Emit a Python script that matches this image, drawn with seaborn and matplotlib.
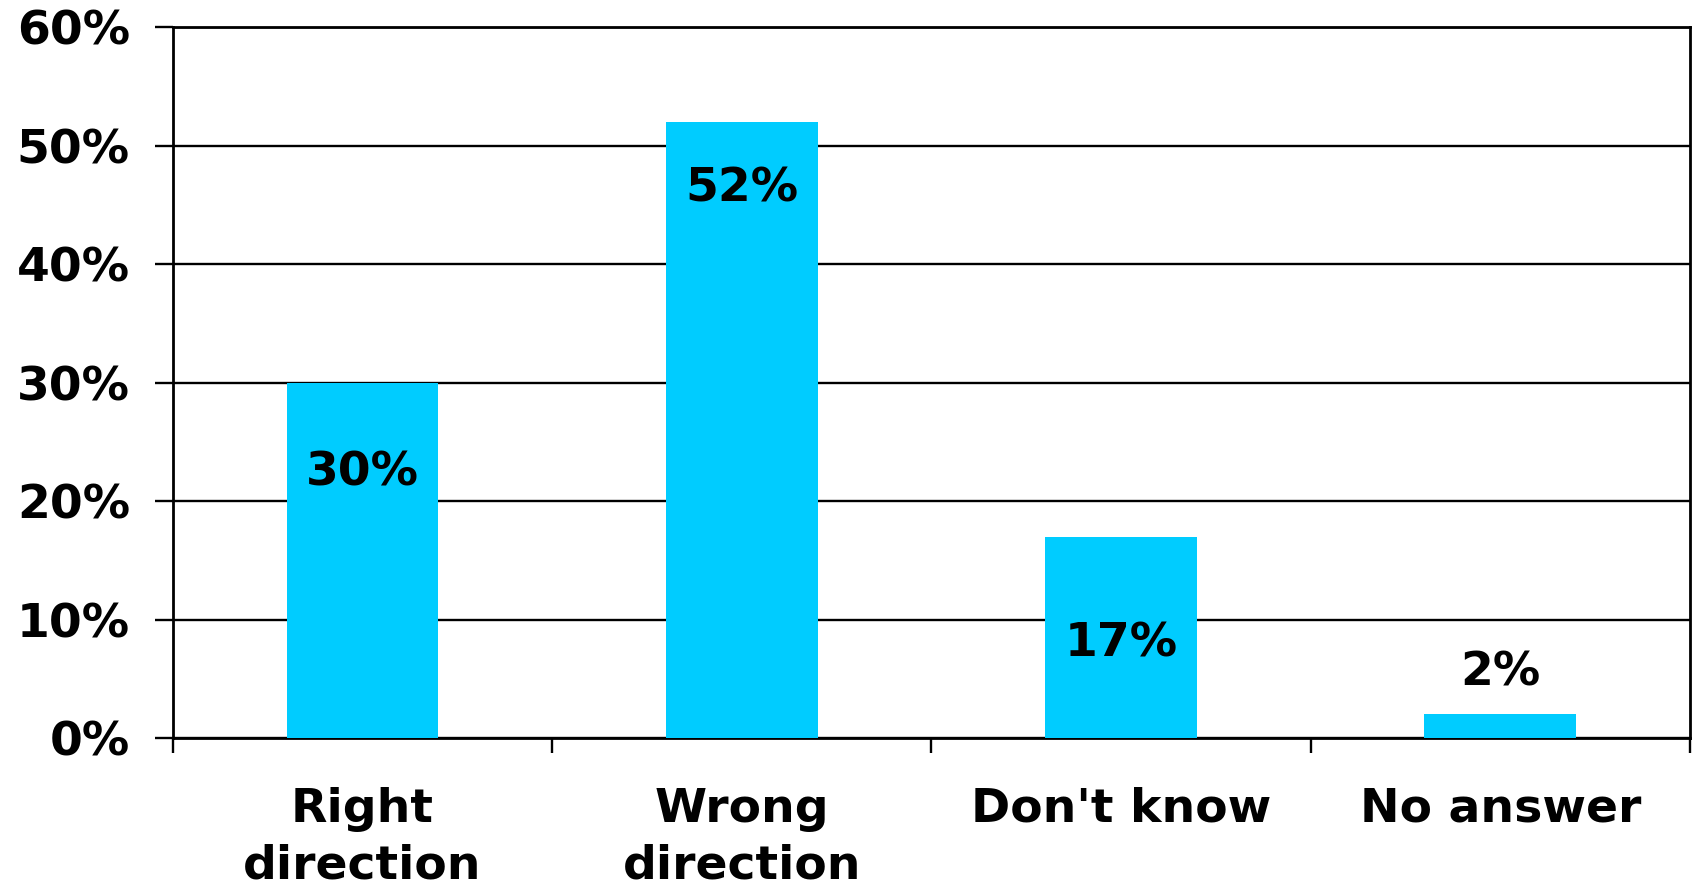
import pandas as pd
import matplotlib
matplotlib.use("Agg")
import matplotlib.pyplot as plt
import seaborn as sns

# Chart data
categories = ["Right\ndirection", "Wrong\ndirection", "Don't know", "No answer"]
values = [30, 52, 17, 2]
label_y = [22.4, 46.3, 7.9, 5.5]   # where each value label sits (in %)
y_ticks = [0, 10, 20, 30, 40, 50, 60]

bar_color = "#00CCFF"

sns.set_theme(style="white")
plt.rcParams['font.family'] = ['DejaVu Sans']
plt.rcParams['font.weight'] = 'bold'

df = pd.DataFrame({"category": categories, "value": values})

fig, ax = plt.subplots(figsize=(16.94, 8.86), dpi=100)
fig.subplots_adjust(left=0.1021, right=0.9976, top=0.9695, bottom=0.167)

sns.barplot(data=df, x="category", y="value", color=bar_color,
            saturation=1, width=0.4, linewidth=0, edgecolor="none",
            ax=ax, zorder=3)

ax.set_xlim(-0.5, len(categories) - 0.5)
ax.set_ylim(0, 60)
ax.set_yticks(y_ticks)
ax.yaxis.set_major_formatter(plt.FuncFormatter(lambda v, p: f"{v:.0f}%"))
ax.grid(axis="y", color="black", linewidth=1.7, zorder=1)
ax.grid(axis="x", visible=False)
ax.set_axisbelow(True)

for s in ax.spines.values():
    s.set_visible(True)
    s.set_color("black")
    s.set_linewidth(2.0)

ax.tick_params(axis="y", which="major", length=13, width=1.7, color="black",
               direction="out", pad=18, labelsize=34, labelcolor="black", left=True)
ax.tick_params(axis="x", which="major", length=0, pad=35, labelsize=34,
               labelcolor="black")
ax.set_xticks(range(len(categories)))
ax.set_xticklabels(categories, fontweight="bold", linespacing=1.34)
for t in ax.get_yticklabels():
    t.set_fontweight("bold")

# category boundary ticks
ax.set_xticks([i - 0.5 for i in range(len(categories) + 1)], minor=True)
ax.tick_params(axis="x", which="minor", length=11, width=1.7, color="black",
               direction="out", bottom=True)

ax.set_xlabel("")
ax.set_ylabel("")

for i, (v, ly) in enumerate(zip(values, label_y)):
    ax.text(i, ly, f"{v}%", ha="center", va="center", fontsize=34,
            fontweight="bold", color="black", zorder=4)

fig.savefig("out.png", dpi=100, facecolor="white")
